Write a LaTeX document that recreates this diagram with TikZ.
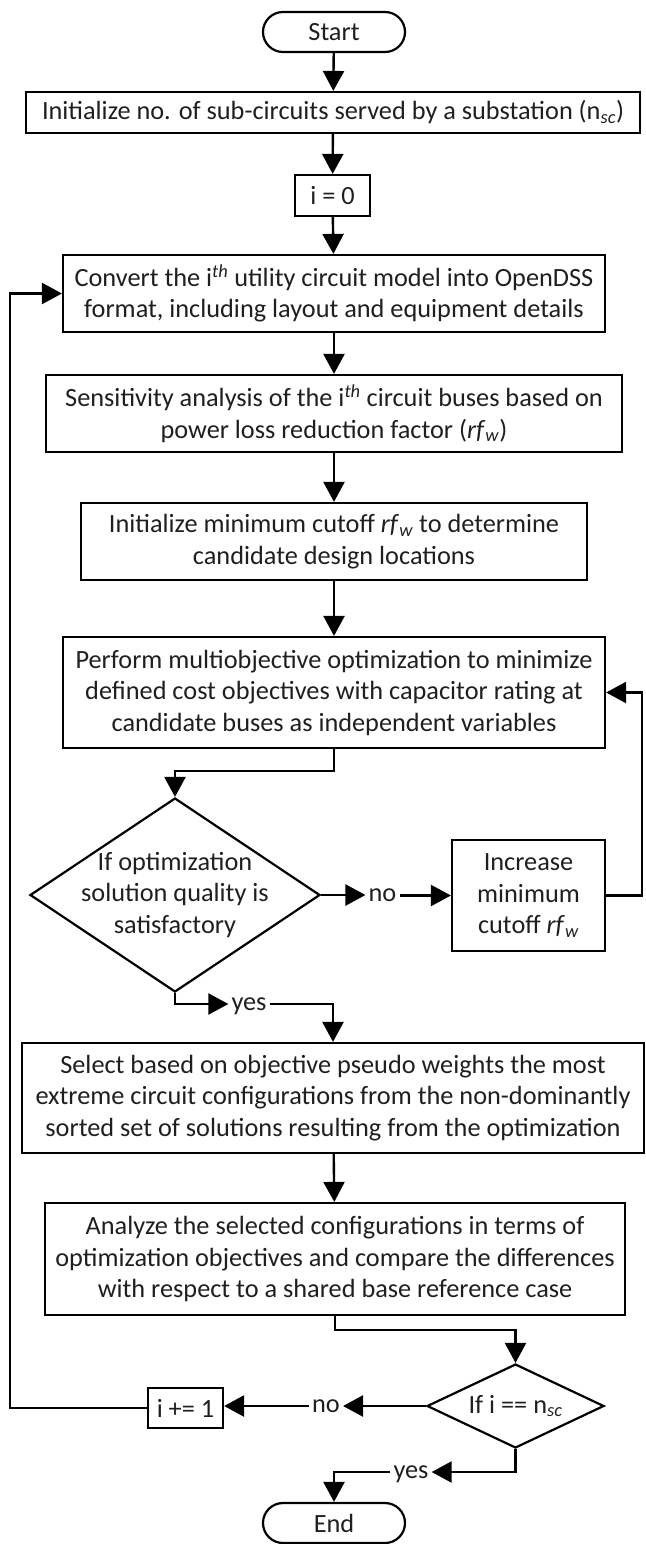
\documentclass[tikz,border=0pt]{standalone}
\usepackage{fontspec}
\setmainfont{Carlito}
\usetikzlibrary{arrows.meta,shapes.geometric}

\newcommand{\sub}[1]{\textsubscript{\textit{#1}}}
\newcommand{\sups}[1]{\textsuperscript{\textit{#1}}}

\begin{document}
\begin{tikzpicture}[x=1pt,y=-1pt,
  every node/.style={font=\fontsize{26.3}{31.5}\selectfont, text=black!88},
  box/.style={draw, line width=2.2pt, rectangle, inner sep=0pt, align=center},
  term/.style={draw, line width=2.2pt, rectangle, rounded corners=20pt,
    minimum width=142pt, minimum height=40pt, inner sep=0pt},
  dshape/.style={draw, line width=2.2pt, diamond, inner sep=0pt},
  lbl/.style={inner xsep=3pt, inner ysep=0pt, anchor=base},
  arr/.style={line width=2.4pt, -{Triangle[length=20pt,width=21pt]}}]

\useasboundingbox (0,0) rectangle (645,1544);

% process steps
\node[term] (start) at (334,32) {Start};
\node[box, minimum width=614pt, minimum height=41pt] (nsc) at (333,112.5)
  {Initialize no. of sub-circuits served by a substation (n\sub{sc})};
\node[box, minimum width=75pt, minimum height=41pt] (izero) at (332.5,195.5) {i = 0};
\node[box, minimum width=542pt, minimum height=77pt] (convert) at (334,293.5)
  {Convert the i\sups{th} utility circuit model into OpenDSS\\
   format, including layout and equipment details};
\node[box, minimum width=576pt, minimum height=77pt] (sens) at (334,413.5)
  {Sensitivity analysis of the i\sups{th} circuit buses based on\\
   power loss reduction factor (\textit{rf}\sub{w})};
\node[box, minimum width=506pt, minimum height=77pt] (cutoff) at (334,541.5)
  {Initialize minimum cutoff \textit{rf}\sub{w} to determine\\
   candidate design locations};
\node[box, minimum width=542pt, minimum height=111pt] (optim) at (334,692.5)
  {Perform multiobjective optimization to minimize\\
   defined cost objectives with capacitor rating at\\
   candidate buses as independent variables};

% quality check
\node[dshape, minimum width=290pt, minimum height=194pt] (qual) at (175,895) {};
\node[align=center] at (qual) {If optimization\\solution quality is\\satisfactory};
\node[box, minimum width=153pt, minimum height=111pt] (incr) at (528.5,895.5)
  {Increase\\minimum\\cutoff \textit{rf}\sub{w}};

\node[box, minimum width=622pt, minimum height=110pt] (select) at (333,1098)
  {Select based on objective pseudo weights the most\\
   extreme circuit configurations from the non-dominantly\\
   sorted set of solutions resulting from the optimization};
\node[box, minimum width=580pt, minimum height=112pt] (analyze) at (335,1259)
  {Analyze the selected configurations in terms of\\
   optimization objectives and compare the differences\\
   with respect to a shared base reference case};

% loop check
\node[dshape, minimum width=177pt, minimum height=84pt] (last) at (515.5,1406) {};
\node at (last) {If i == n\sub{sc}};
\node[box, minimum width=75pt, minimum height=40pt] (inc) at (185.5,1408) {i += 1};
\node[term] (end) at (334,1523) {End};

% branch labels (baseline just below the connector they sit on)
\node[lbl] (no1) at (382.5,901.5) {no};
\node[lbl] (yes1) at (249,1010) {yes};
\node[lbl] (no2) at (326,1412) {no};
\node[lbl] (yes2) at (411,1478) {yes};

\coordinate (rback) at (642,895.5);
\coordinate (lback) at (10,1408);

% connectors
\draw[arr] (start) -- (nsc);
\draw[arr] (nsc) -- (izero);
\draw[arr] (izero) -- (convert);
\draw[arr] (convert) -- (sens);
\draw[arr] (sens) -- (cutoff);
\draw[arr] (cutoff) -- (optim);
\draw[arr] (optim.south) -- ++(0,22) -| (qual.north);
\draw[arr] (qual.east) -- (no1.west |- qual.east);
\draw[arr] (no1.east |- incr.west) -- (incr.west);
\draw[arr] (incr.east) -- (rback) |- (optim.east);
\draw[arr] (qual.south) |- (yes1.west |- 0,1004);
\draw[arr] (yes1.east |- 0,1004) -| (select.north);
\draw[arr] (select) -- (analyze);
\draw[arr] (analyze.south) -- ++(0,14) -| (last.north);
\draw[arr] (last.west) -- (no2.east |- last.west);
\draw[arr] (no2.west |- last.west) -- (inc.east |- last.west);
\draw[arr] (inc.west) -- (lback) |- (convert.west);
\draw[arr] (last.south) |- (yes2.east |- 0,1472);
\draw[arr] (yes2.west |- 0,1472) -| (end.north);
\end{tikzpicture}
\end{document}
